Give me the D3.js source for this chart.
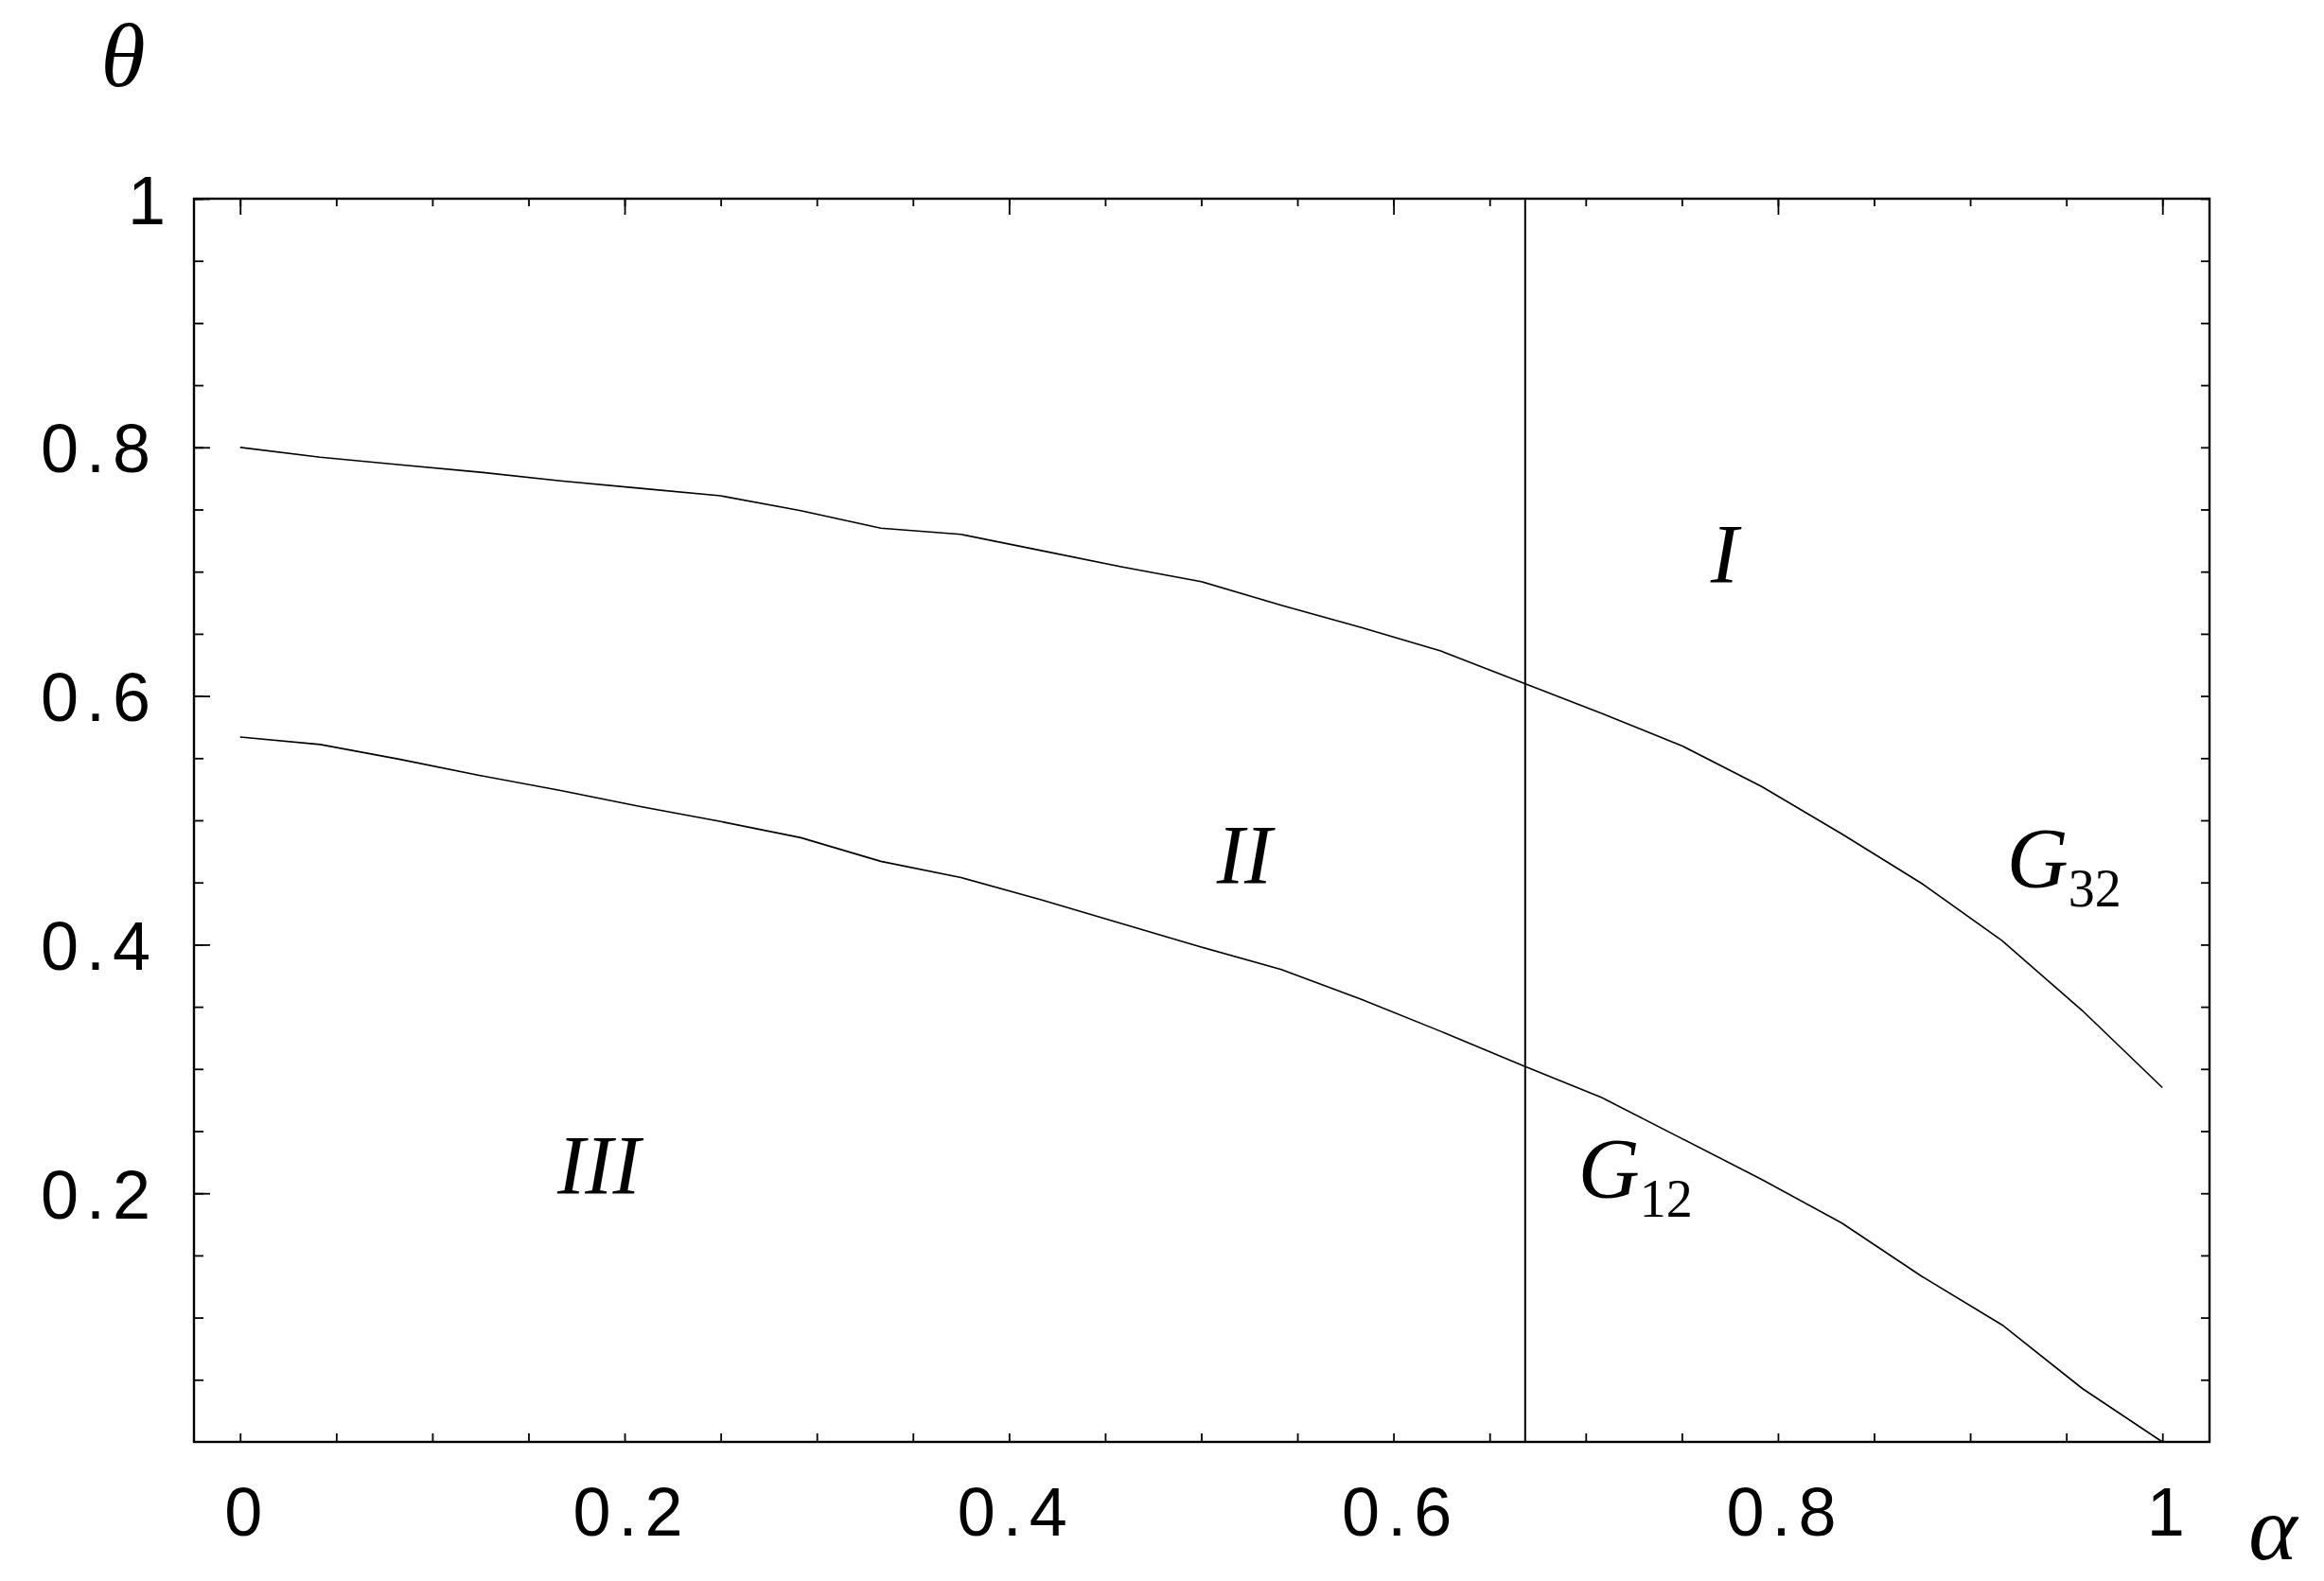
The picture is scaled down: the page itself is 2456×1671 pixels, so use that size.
<!DOCTYPE html>
<html>
<head>
<meta charset="utf-8">
<script src="https://cdn.jsdelivr.net/npm/d3@7"></script>
<style>
  html, body { margin: 0; padding: 0; background: #ffffff; }
  svg { display: block; }
</style>
</head>
<body>
<svg id="chart" width="2456" height="1671"></svg>
<script>
// ---- data ----
const alpha = [0, 0.0417, 0.0833, 0.125, 0.1667, 0.2083, 0.25, 0.2917, 0.3333, 0.375,
               0.4167, 0.4583, 0.5, 0.5417, 0.5833, 0.625, 0.6667, 0.7083, 0.75, 0.7917,
               0.8333, 0.875, 0.9167, 0.9583, 1];
const g32 = [0.800, 0.792, 0.786, 0.780, 0.773, 0.767, 0.761, 0.749, 0.735, 0.730,
             0.717, 0.704, 0.692, 0.673, 0.655, 0.636, 0.611, 0.586, 0.560, 0.527,
             0.489, 0.449, 0.403, 0.347, 0.285];
const g12 = [0.567, 0.561, 0.549, 0.536, 0.524, 0.511, 0.499, 0.486, 0.467, 0.454,
             0.436, 0.417, 0.398, 0.380, 0.356, 0.330, 0.303, 0.277, 0.244, 0.211,
             0.176, 0.133, 0.094, 0.043, 0.000];
const boundaryAlpha = 0.6685;
const xTickValues = [0, 0.2, 0.4, 0.6, 0.8, 1];
const xTickLabels = ["0", "0.2", "0.4", "0.6", "0.8", "1"];
const yTickValues = [0.2, 0.4, 0.6, 0.8, 1];
const yTickLabels = ["0.2", "0.4", "0.6", "0.8", "1"];
const regionLabels = [
  { text: "I",   a: 0.765, t: 0.692 },
  { text: "II",  a: 0.508, t: 0.450 },
  { text: "III", a: 0.165, t: 0.200 }
];
const curveLabels = [
  { main: "G", sub: "32", a: 0.919, t: 0.446 },
  { main: "G", sub: "12", a: 0.696, t: 0.196 }
];

// ---- layout ----
const L = 205, R = 2335, T = 210, B = 1524;
const x = d3.scaleLinear().domain([-0.024, 1.0245]).range([L, R]);
const y = d3.scaleLinear().domain([0, 1]).range([B, T]);
const svg = d3.select("#chart");
svg.append("rect").attr("width", 2456).attr("height", 1671).attr("fill", "#fff");

const minorX = d3.range(0, 1.0001, 0.05);
const minorY = d3.range(0.05, 1.0001, 0.05);
const SANS = "'Liberation Sans', Arial, sans-serif";
const SERIF = "'Liberation Serif', 'Times New Roman', serif";

function styleTicks(g, w) {
  g.select(".domain").remove();
  g.selectAll(".tick line").attr("stroke", "#000").attr("stroke-width", w);
}
// bottom (short ticks)
svg.append("g").attr("transform", `translate(0,${B})`)
  .call(d3.axisBottom(x).tickValues(minorX).tickSize(-9).tickFormat(""))
  .call(g => styleTicks(g, 1.8));
// top: minor + major
svg.append("g").attr("transform", `translate(0,${T})`)
  .call(d3.axisTop(x).tickValues(minorX).tickSize(-8).tickFormat(""))
  .call(g => styleTicks(g, 1.8));
svg.append("g").attr("transform", `translate(0,${T})`)
  .call(d3.axisTop(x).tickValues(xTickValues).tickSize(-17).tickFormat(""))
  .call(g => styleTicks(g, 1.8));
// left: minor + major
svg.append("g").attr("transform", `translate(${L},0)`)
  .call(d3.axisLeft(y).tickValues(minorY).tickSize(-10).tickFormat(""))
  .call(g => styleTicks(g, 1.8));
svg.append("g").attr("transform", `translate(${L},0)`)
  .call(d3.axisLeft(y).tickValues(yTickValues).tickSize(-17).tickFormat(""))
  .call(g => styleTicks(g, 1.8));
// right (short)
svg.append("g").attr("transform", `translate(${R},0)`)
  .call(d3.axisRight(y).tickValues(minorY).tickSize(-9).tickFormat(""))
  .call(g => styleTicks(g, 1.8));

// frame
svg.append("rect").attr("x", L).attr("y", T).attr("width", R - L).attr("height", B - T)
  .attr("fill", "none").attr("stroke", "#000").attr("stroke-width", 2.4);

// tick labels
const FS = 72, LS = 8;
svg.append("g").attr("transform", `translate(0,${B})`)
  .call(d3.axisBottom(x).tickValues(xTickValues).tickSize(0)
        .tickFormat((d, i) => xTickLabels[i]))
  .call(g => {
    g.select(".domain").remove();
    g.selectAll(".tick text")
      .attr("font-family", SANS).attr("font-size", FS).attr("fill", "#000")
      .attr("letter-spacing", LS)
      .attr("text-anchor", "middle")
      .attr("x", 7).attr("y", 99).attr("dy", null);
  });
svg.append("g").attr("transform", `translate(${L},0)`)
  .call(d3.axisLeft(y).tickValues(yTickValues).tickSize(0)
        .tickFormat((d, i) => yTickLabels[i]))
  .call(g => {
    g.select(".domain").remove();
    g.selectAll(".tick text")
      .attr("font-family", SANS).attr("font-size", FS).attr("fill", "#000")
      .attr("letter-spacing", LS)
      .attr("text-anchor", "end")
      .attr("x", (d, i) => yTickLabels[i].includes(".") ? -38 : -22)
      .attr("y", 26).attr("dy", null);
  });

// curves
const line = d3.line().x((d, i) => x(alpha[i])).y(d => y(d)).curve(d3.curveLinear);
svg.append("path").datum(g32).attr("d", line)
  .attr("fill", "none").attr("stroke", "#000").attr("stroke-width", 1.6);
svg.append("path").datum(g12).attr("d", line)
  .attr("fill", "none").attr("stroke", "#000").attr("stroke-width", 1.6);

// vertical boundary
svg.append("line")
  .attr("x1", x(boundaryAlpha)).attr("x2", x(boundaryAlpha))
  .attr("y1", y(0)).attr("y2", y(1))
  .attr("stroke", "#000").attr("stroke-width", 2);

// region labels
svg.selectAll("text.region").data(regionLabels).join("text")
  .attr("class", "region")
  .attr("x", d => x(d.a)).attr("y", d => y(d.t))
  .attr("font-family", SERIF).attr("font-style", "italic")
  .attr("font-size", 88).attr("fill", "#000")
  .text(d => d.text);

// curve labels G with subscript
curveLabels.forEach(c => {
  const t = svg.append("text")
    .attr("x", x(c.a)).attr("y", y(c.t))
    .attr("font-family", SERIF).attr("font-size", 90).attr("fill", "#000");
  t.append("tspan").attr("font-style", "italic").text(c.main);
  t.append("tspan").attr("font-size", 56).attr("dx", 0).attr("dy", 20).text(c.sub);
});

// axis symbols
svg.append("text").attr("x", 130).attr("y", 91)
  .attr("text-anchor", "middle")
  .attr("font-family", SERIF).attr("font-style", "italic")
  .attr("font-size", 96).attr("fill", "#000").text("θ");
svg.append("text").attr("x", 2402).attr("y", 1648)
  .attr("text-anchor", "middle")
  .attr("font-family", SERIF).attr("font-style", "italic")
  .attr("font-size", 98).attr("fill", "#000").text("α");
</script>
</body>
</html>
